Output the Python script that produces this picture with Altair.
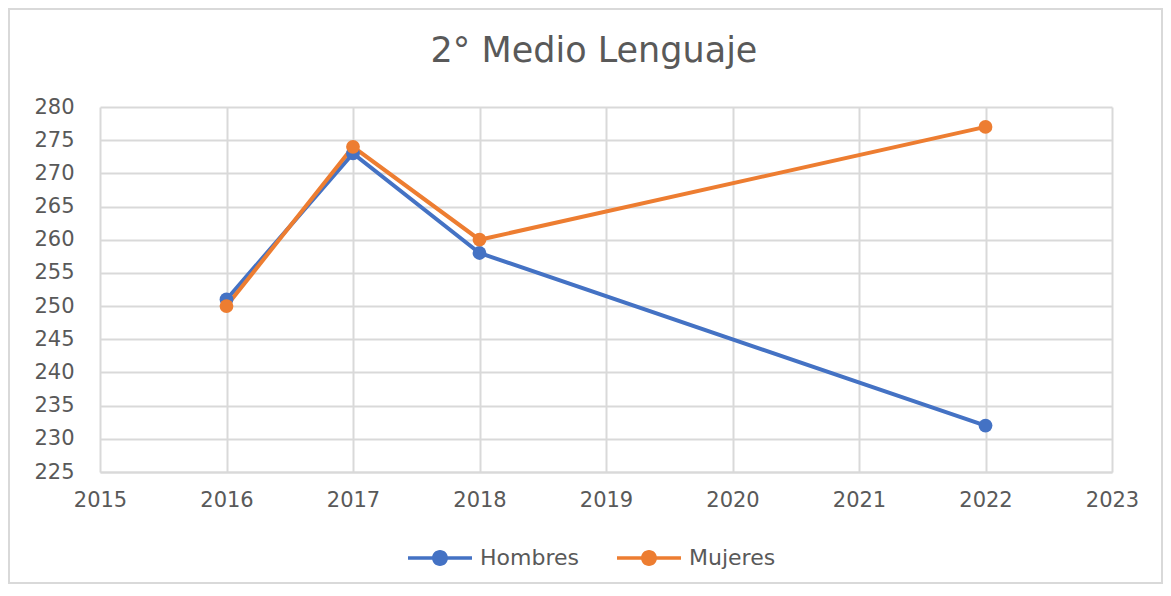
import altair as alt
import pandas as pd

years = [2016, 2017, 2018, 2022]
hombres = [251, 273, 258, 232]
mujeres = [250, 274, 260, 277]
series = ["Hombres", "Mujeres"]
colors = ["#4472C4", "#ED7D31"]
y_ticks = list(range(225, 281, 5))
x_ticks = list(range(2015, 2024))
title_text = "2° Medio Lenguaje"

rows = []
for y, h, m in zip(years, hombres, mujeres):
    rows.append({"Año": y, "Serie": "Hombres", "Valor": h})
    rows.append({"Año": y, "Serie": "Mujeres", "Valor": m})
df = pd.DataFrame(rows)

FONT = "DejaVu Sans"
GREY = "#595959"
GRID = "#D9D9D9"

x = alt.X("Año:Q", scale=alt.Scale(domain=[2015, 2023], nice=False, zero=False),
          axis=alt.Axis(values=x_ticks, format="d", title=None, grid=True, gridColor=GRID,
                        gridWidth=2, domainColor=GRID, domainWidth=2, ticks=False,
                        labelFlush=False, labelFontSize=21, labelColor=GREY, labelFont=FONT,
                        labelPadding=17))
y = alt.Y("Valor:Q", scale=alt.Scale(domain=[225, 280], nice=False, zero=False),
          axis=alt.Axis(values=y_ticks, title=None, grid=True, gridColor=GRID, gridWidth=2,
                        domain=False, ticks=False, labelFlush=False, labelFontSize=21,
                        labelColor=GREY, labelFont=FONT, labelPadding=26))

# legend symbol: line segment + filled dot, as one filled path
sym = ("M-1,-0.055L1,-0.055L1,0.055L-1,0.055Z "
       "M0.25,0A0.25,0.25,0,1,1,-0.25,0A0.25,0.25,0,1,1,0.25,0Z")

fill_enc = alt.Color("Serie:N", scale=alt.Scale(domain=series, range=colors),
                     legend=alt.Legend(title=None, orient="none", direction="horizontal",
                                       legendX=308, legendY=419, symbolSize=4096,
                                       symbolType=sym, symbolStrokeWidth=0,
                                       labelFontSize=22, labelFont=FONT, labelColor=GREY,
                                       columnPadding=38, labelOffset=8))
stroke_enc = alt.Stroke("Serie:N", scale=alt.Scale(domain=series, range=colors), legend=None)

base_one = pd.DataFrame({"t": [title_text]})

border = alt.Chart(base_one).mark_rect(
    fill="transparent", stroke="#D9D9D9", strokeWidth=2
).encode(x=alt.value(-91), x2=alt.value(1062), y=alt.value(-98), y2=alt.value(476))

title = alt.Chart(base_one).mark_text(
    fontSize=35, font=FONT, color=GREY, align="center", baseline="alphabetic"
).encode(text="t:N", x=alt.value(494), y=alt.value(-45))

lines = alt.Chart(df).mark_line(strokeWidth=4).encode(x=x, y=y, stroke=stroke_enc, detail="Serie:N")
points = alt.Chart(df).mark_circle(size=190, opacity=1).encode(x=x, y=y, color=fill_enc)

chart = alt.layer(border, title, lines, points).resolve_scale(color="independent").properties(
    width=1012, height=365,
    autosize=alt.AutoSizeParams(type="none"),
    padding={"left": 92, "top": 99, "right": 51, "bottom": 112},
).configure(background="white").configure_view(stroke=None)

chart.save("out.html", embed_options={"renderer": "svg", "actions": False})
